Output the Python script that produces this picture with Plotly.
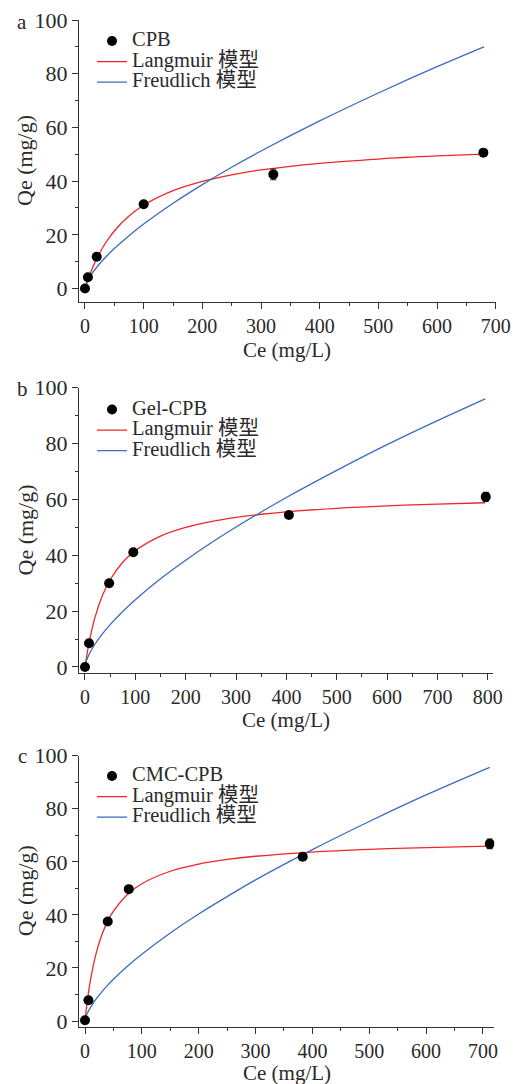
import plotly.graph_objects as go

# ---------------- data ----------------
# Panel a : CPB
a_ce = [0, 5, 20, 100, 321, 679]
a_qe = [0, 4.2, 11.8, 31.4, 42.5, 50.6]
a_err = [0.4, 0.5, 0.5, 0.8, 2.0, 0.9]
a_fit_ce = [0, 2, 5, 10, 20, 35, 50, 75, 100, 150, 200, 250, 300, 400, 500, 600, 680]
a_lang = [0, 1.36, 3.27, 6.18, 11.13, 16.95, 21.43, 26.98, 31.0, 36.42, 39.91, 42.34,
          44.14, 46.6, 48.22, 49.36, 50.06]
a_freu = [0, 1.61, 3.04, 4.90, 7.90, 11.62, 14.87, 19.67, 23.99, 31.73, 38.69, 45.15,
          51.2, 62.4, 72.8, 82.6, 90.0]

# Panel b : Gel-CPB
b_ce = [0, 8, 48, 96, 405, 796]
b_qe = [0, 8.5, 30.0, 41.1, 54.4, 60.9]
b_err = [0.4, 0.6, 0.7, 0.6, 1.2, 1.6]
b_fit_ce = [0, 2, 5, 10, 20, 35, 50, 75, 100, 150, 200, 250, 300, 350, 400, 500, 600, 700, 795]
b_lang = [0, 2.4, 5.68, 10.42, 17.86, 25.74, 31.25, 37.5, 41.67, 46.88, 50.0, 52.08, 53.57,
          54.69, 55.56, 56.82, 57.69, 58.33, 58.8]
b_freu = [0, 1.77, 3.26, 5.18, 8.23, 11.95, 15.16, 19.86, 24.08, 31.56, 38.23, 44.37, 50.1,
          55.5, 60.7, 70.4, 79.6, 88.2, 96.0]

# Panel c : CMC-CPB
c_ce = [0, 6, 40, 77, 383, 712]
c_qe = [0.3, 7.8, 37.5, 49.7, 61.9, 66.8]
c_err = [0.4, 0.5, 0.6, 0.8, 0.8, 1.8]
c_fit_ce = [0, 2, 5, 10, 20, 30, 40, 50, 75, 100, 150, 200, 250, 300, 400, 500, 600, 712]
c_lang = [0, 3.91, 9.0, 15.92, 25.88, 32.68, 37.64, 41.4, 47.77, 51.75, 56.45, 59.14, 60.88,
          62.1, 63.69, 64.69, 65.37, 65.91]
c_freu = [0, 1.76, 3.28, 5.26, 8.43, 11.1, 13.5, 15.71, 20.7, 25.17, 33.17, 40.33, 46.9,
          53.2, 64.6, 75.2, 85.2, 95.6]

sample_names = ["CPB", "Gel-CPB", "CMC-CPB"]
model_names = ["Langmuir 模型", "Freudlich 模型"]
panel_labels = ["a", "b", "c"]
x_ticks_a = [0, 100, 200, 300, 400, 500, 600, 700]
x_ticks_b = [0, 100, 200, 300, 400, 500, 600, 700, 800]
x_ticks_c = [0, 100, 200, 300, 400, 500, 600, 700]
y_ticks = [0, 20, 40, 60, 80, 100]
x_title = "Ce (mg/L)"
y_title = "Qe (mg/g)"

# ---------------- layout helpers ----------------
W, H = 518, 1084
FONT = '"Liberation Serif", "Times New Roman", "Noto Sans CJK SC", serif'
TXT = "#2a2a2a"
RED = "#f0262a"
BLUE = "#3b6cc0"


def px(x):
    return x / W


def py(y):
    return 1 - y / H


def leg(s):
    return '<span style="font-size:20.5px">' + s + "</span>"


panels = [
    dict(ce=a_ce, qe=a_qe, err=a_err, fce=a_fit_ce, lang=a_lang, freu=a_freu,
         xdom=(79, 495.7), ydom=(302, 20), xr=[-10.2, 700], yr=[-5.03, 100],
         xt=x_ticks_a, legy=25.7, lab_y=22, xt_y=350),
    dict(ce=b_ce, qe=b_qe, err=b_err, fce=b_fit_ce, lang=b_lang, freu=b_freu,
         xdom=(79, 493.3), ydom=(673.3, 387.7), xr=[-11.9, 811], yr=[-2.26, 100],
         xt=x_ticks_b, legy=394.3, lab_y=389, xt_y=720),
    dict(ce=c_ce, qe=c_qe, err=c_err, fce=c_fit_ce, lang=c_lang, freu=c_freu,
         xdom=(79, 494.3), ydom=(1026.7, 755.7), xr=[-10.55, 720], yr=[-2.15, 100],
         xt=x_ticks_c, legy=760.7, lab_y=756, xt_y=1073),
]

fig = go.Figure()
layout = dict(
    width=W, height=H,
    margin=dict(l=0, r=0, t=0, b=0, autoexpand=False),
    paper_bgcolor="white", plot_bgcolor="white",
    font=dict(family=FONT, color=TXT, size=20),
    annotations=[],
)

for i, p in enumerate(panels):
    k = "" if i == 0 else str(i + 1)
    xa, ya = "x" + k, "y" + k
    lg = "legend" + k
    fig.add_trace(go.Scatter(
        x=p["fce"], y=p["lang"], mode="lines", name=leg(model_names[0]),
        line=dict(color=RED, width=1.3, shape="spline"),
        xaxis=xa, yaxis=ya, legend=lg, legendrank=2))
    fig.add_trace(go.Scatter(
        x=p["fce"], y=p["freu"], mode="lines", name=leg(model_names[1]),
        line=dict(color=BLUE, width=1.3, shape="spline"),
        xaxis=xa, yaxis=ya, legend=lg, legendrank=3))
    fig.add_trace(go.Scatter(
        x=p["ce"], y=p["qe"], mode="markers", name=leg(sample_names[i]),
        marker=dict(color="black", size=10),
        error_y=dict(type="data", array=p["err"], visible=True, color="#222",
                     thickness=1.2, width=3),
        xaxis=xa, yaxis=ya, legend=lg, legendrank=1))

    axis_common = dict(
        showline=True, linecolor="#333", linewidth=1.3,
        ticks="outside", ticklen=6, tickwidth=1.3, tickcolor="#333",
        showgrid=False, zeroline=False, fixedrange=True, automargin=False,
        minor=dict(ticks="outside", ticklen=3, tickwidth=1.2, tickcolor="#333",
                   showgrid=False, tickmode="linear", tick0=0),
    )
    xax = dict(axis_common)
    xax.update(domain=[px(p["xdom"][0]), px(p["xdom"][1])], range=p["xr"],
               anchor=ya, tickmode="array", tickvals=p["xt"],
               ticktext=[str(v) for v in p["xt"]],
               tickfont=dict(size=20, family=FONT, color=TXT))
    xax["minor"] = dict(axis_common["minor"], dtick=50)
    yax = dict(axis_common)
    yax.update(domain=[py(p["ydom"][0]), py(p["ydom"][1])], range=p["yr"],
               anchor=xa, tickmode="array", tickvals=y_ticks,
               ticktext=[str(v) for v in y_ticks],
               tickfont=dict(size=22, family=FONT, color=TXT))
    yax["minor"] = dict(axis_common["minor"], dtick=10)
    layout["xaxis" + k] = xax
    layout["yaxis" + k] = yax
    layout[lg] = dict(
        x=px(92), y=py(p["legy"]), xanchor="left", yanchor="top",
        bgcolor="rgba(0,0,0,0)", borderwidth=0,
        font=dict(size=13.5, family=FONT, color=TXT),
        traceorder="normal", itemwidth=30,
    )
    ymid = (p["ydom"][0] + p["ydom"][1]) / 2
    xmid = (p["xdom"][0] + p["xdom"][1]) / 2
    layout["annotations"] += [
        dict(text=panel_labels[i], xref="paper", yref="paper",
             x=px(22), y=py(p["lab_y"]), xanchor="center", yanchor="middle",
             showarrow=False, font=dict(size=21, family=FONT, color=TXT)),
        dict(text=x_title, xref="paper", yref="paper",
             x=px(xmid), y=py(p["xt_y"]), xanchor="center", yanchor="middle",
             showarrow=False, font=dict(size=21, family=FONT, color=TXT)),
        dict(text=y_title, xref="paper", yref="paper", textangle=-90,
             x=px(25), y=py(ymid), xanchor="center", yanchor="middle",
             showarrow=False, font=dict(size=22, family=FONT, color=TXT)),
    ]

fig.update_layout(**layout)
fig.write_html("out.html")
